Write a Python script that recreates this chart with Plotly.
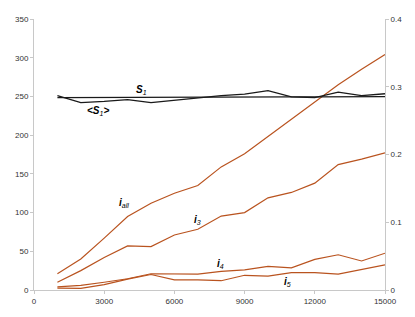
import plotly.graph_objects as go

N = [1000, 2000, 3000, 4000, 5000, 6000, 7000, 8000, 9000, 10000, 11000, 12000, 13000, 14000, 15000]
i_all = [21, 40, 67, 95, 112, 125, 135, 159, 176, 198, 220, 242, 265, 285, 304]
i_3 = [10, 25, 42, 57, 56, 71, 78.5, 95.5, 100, 119, 126, 138, 162, 169, 177]
i_4 = [4, 6, 10, 14.5, 21, 21, 20.5, 24, 26, 30.5, 28.5, 39.5, 45.5, 37.5, 47.5]
i_5 = [2.5, 2, 7, 14, 20, 13, 13, 12, 19, 18, 22.5, 22.5, 20.5, 26.5, 32.5]
s1 = [0.2840, 0.2842, 0.2844, 0.2845, 0.2846, 0.2847, 0.2848, 0.2849, 0.2850, 0.2850, 0.2851, 0.2851, 0.2852, 0.2852, 0.2853]
s1_avg = [0.2869, 0.2766, 0.2783, 0.2811, 0.2766, 0.2800, 0.2834, 0.2869, 0.2891, 0.2943, 0.2851, 0.2840, 0.2920, 0.2869, 0.2897]

x_ticks = [0, 3000, 6000, 9000, 12000, 15000]
y_ticks = [0, 50, 100, 150, 200, 250, 300, 350]
y2_ticks = [0, 0.1, 0.2, 0.3, 0.4]
y2_labels = ["0", "0.1", "0.2", "0.3", "0.4"]

ORANGE = "#B9531F"
BLACK = "#1a1a1a"
AXIS = "#c8c8c8"
TXT = "#333333"

fig = go.Figure()
for ys in [i_all, i_3, i_4, i_5]:
    fig.add_trace(go.Scatter(x=N, y=ys, mode="lines", line=dict(color=ORANGE, width=1.2),
                             showlegend=False, hoverinfo="skip"))
for ys in [s1, s1_avg]:
    fig.add_trace(go.Scatter(x=N, y=ys, mode="lines", line=dict(color=BLACK, width=1.3),
                             yaxis="y2", showlegend=False, hoverinfo="skip"))

font_tick = dict(family="Liberation Sans, Arial, sans-serif", size=8, color=TXT)
lab_font = dict(family="Liberation Sans, Arial, sans-serif", size=10, color="#000")

labels = [
    (4590, 258, "<i><b>S</b><sub>1</sub></i>"),
    (2720, 231, "<i><b>&lt;S</b><sub>1</sub><b>&gt;</b></i>"),
    (3825, 113, "<i><b>i</b><sub>all</sub></i>"),
    (6970, 91, "<i><b>i</b><sub>3</sub></i>"),
    (7990, 34, "<i><b>i</b><sub>4</sub></i>"),
    (10835, 10, "<i><b>i</b><sub>5</sub></i>"),
    (13725, -13, "<i><b>N</b></i>"),
]
for x, y, t in labels:
    fig.add_annotation(x=x, y=y, xref="x", yref="y", text=t, showarrow=False, font=lab_font)

fig.update_layout(
    width=407, height=309,
    margin=dict(l=24, r=30, t=7, b=27),
    paper_bgcolor="white", plot_bgcolor="white",
    xaxis=dict(range=[0, 15000], tickvals=x_ticks, ticktext=[str(v) for v in x_ticks],
               showgrid=False, zeroline=False, showline=True, linecolor=AXIS, linewidth=1,
               ticks="outside", ticklen=3, tickcolor=AXIS, tickfont=font_tick),
    yaxis=dict(range=[0, 350], tickvals=y_ticks, showgrid=False, zeroline=False,
               showline=True, linecolor=AXIS, linewidth=1, ticks="outside", ticklen=3,
               tickcolor=AXIS, tickfont=font_tick),
    yaxis2=dict(range=[0, 0.4], tickvals=y2_ticks, ticktext=y2_labels, overlaying="y",
                side="right", showgrid=False, zeroline=False, showline=True, linecolor=AXIS,
                linewidth=1, ticks="outside", ticklen=3, tickcolor=AXIS, tickfont=font_tick),
)

fig.write_html("out.html")
